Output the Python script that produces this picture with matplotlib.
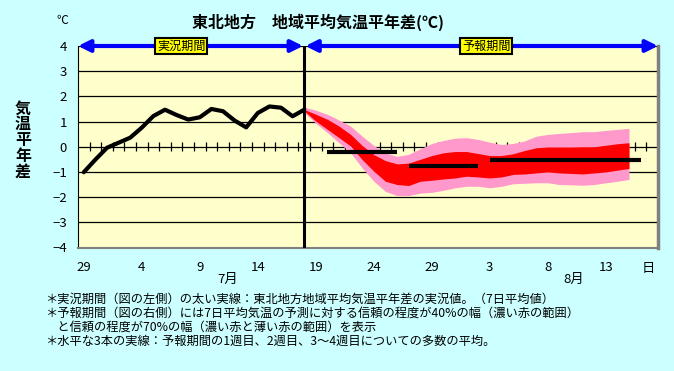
import numpy as np
import matplotlib.pyplot as plt

plt.rcParams['font.family'] = ['Noto Sans CJK JP', 'DejaVu Sans']

# days from 6/29 to 8/17 (one category per day)
days = [29, 30] + list(range(1, 32)) + list(range(1, 18))
month_labels = ['7月', '8月']
month_pos = [12.4, 42.2]

# observed 7-day mean anomaly (6/29 - 7/18)
observed = [-1.01, -0.51, -0.04, 0.16, 0.36, 0.76, 1.22, 1.47, 1.26, 1.08,
            1.17, 1.50, 1.41, 1.04, 0.77, 1.34, 1.60, 1.55, 1.21, 1.47]

# forecast ranges, starting at 7/18
fc_start = 19
pink_top = [1.58, 1.45, 1.29, 1.06, 0.82, 0.42, 0.05, -0.25, -0.38, -0.30,
            -0.08, 0.13, 0.25, 0.34, 0.36, 0.29, 0.18, 0.09, 0.13, 0.23,
            0.42, 0.49, 0.53, 0.56, 0.60, 0.60, 0.65, 0.69, 0.73]
red_top = [1.48, 1.29, 1.09, 0.82, 0.49, 0.05, -0.31, -0.55, -0.68, -0.65,
           -0.50, -0.35, -0.24, -0.19, -0.19, -0.27, -0.35, -0.35, -0.28, -0.15,
           -0.04, -0.01, -0.01, -0.01, 0.00, 0.00, 0.06, 0.12, 0.16]
red_bot = [1.42, 1.02, 0.69, 0.36, 0.03, -0.51, -0.97, -1.37, -1.50, -1.54,
           -1.37, -1.33, -1.28, -1.24, -1.17, -1.20, -1.24, -1.20, -1.10, -1.08,
           -1.04, -1.00, -1.04, -1.06, -1.08, -1.04, -1.00, -0.93, -0.86]
pink_bot = [1.36, 0.93, 0.56, 0.16, -0.24, -0.84, -1.37, -1.77, -1.94, -1.94,
            -1.84, -1.81, -1.73, -1.63, -1.57, -1.57, -1.63, -1.57, -1.47, -1.45,
            -1.43, -1.43, -1.50, -1.51, -1.53, -1.50, -1.43, -1.37, -1.30]

# ensemble means for week 1, week 2 and weeks 3-4
week_means = [-0.2, -0.78, -0.54]
week_spans = [(21, 27), (28, 34), (35, 48)]

notes = [
    '＊実況期間（図の左側）の太い実線：東北地方地域平均気温平年差の実況値。（7日平均値）',
    '＊予報期間（図の右側）には7日平均気温の予測に対する信頼の程度が40%の幅（濃い赤の範囲）',
    '　と信頼の程度が70%の幅（濃い赤と薄い赤の範囲）を表示',
    '＊水平な3本の実線：予報期間の1週目、2週目、3～4週目についての多数の平均。',
]

W, H = 674, 371
fig = plt.figure(figsize=(W / 100, H / 100), dpi=100, facecolor='#CCFFFF')
ax = fig.add_axes([78 / W, 1 - 247.5 / H, 580 / W, 201.5 / H])
ax.set_facecolor('#FFFFCC')

x = np.arange(len(days))
ax.set_xlim(-0.5, len(days) - 0.5)
ax.set_ylim(-4, 4)
ax.set_yticks(range(-4, 5))
ax.yaxis.grid(True, color='black', lw=0.9)
ax.set_axisbelow(True)
ax.tick_params(axis='y', length=0, pad=8, labelsize=9.5)
ax.set_xticks(x[::5])
ax.set_xticklabels([str(days[i]) for i in x[::5]])
ax.tick_params(axis='x', length=0, pad=10, labelsize=9.5)

# tick marks crossing the zero line, between categories
ax.vlines(x + 0.5, -0.18, 0.18, color='black', lw=0.9, zorder=0.8)

fx = np.arange(fc_start, fc_start + len(red_top))
ax.fill_between(fx, pink_bot, pink_top, color='#FF99CC', lw=0, zorder=1)
ax.fill_between(fx, red_bot, red_top, color='#FF0000', lw=0, zorder=1.5)

ax.plot(x[:len(observed)], observed, color='black', lw=3,
        solid_capstyle='round', solid_joinstyle='round', zorder=3)
for (a, b), m in zip(week_spans, week_means):
    ax.plot([a, b], [m, m], color='black', lw=3, solid_capstyle='butt', zorder=3)

ax.axvline(fc_start, color='black', lw=2.2, zorder=4)

ax.spines['top'].set_visible(False)
ax.spines['left'].set_color('black')
ax.spines['bottom'].set_color('#808080')
ax.spines['bottom'].set_linewidth(1.5)
ax.spines['right'].set_color('#808080')
ax.spines['right'].set_linewidth(2.5)

# period arrows
astyle = '<|-|>, head_length=0.7, head_width=0.35'
ax.annotate('', xy=(-0.5, 4), xytext=(fc_start - 0.1, 4), annotation_clip=False,
            arrowprops=dict(arrowstyle=astyle, color='#0000FF', lw=3,
                            shrinkA=0, shrinkB=0, mutation_scale=10), zorder=5)
ax.annotate('', xy=(fc_start + 0.1, 4), xytext=(len(days) - 0.5, 4), annotation_clip=False,
            arrowprops=dict(arrowstyle=astyle, color='#0000FF', lw=3,
                            shrinkA=0, shrinkB=0, mutation_scale=10), zorder=5)
for xp, lab in [(8.4, '実況期間'), (34.7, '予報期間')]:
    ax.text(xp, 4, lab, ha='center', va='center', fontsize=8.7, zorder=6, clip_on=False,
            bbox=dict(boxstyle='square,pad=0.15', fc='#FFFF00', ec='black', lw=1.5))

xt = ax.get_xaxis_transform()
for xp, lab in zip(month_pos, month_labels):
    ax.text(xp, -0.16, lab, transform=xt, ha='center', va='center', fontsize=9.5)
ax.text(48.7, -0.102, '日', transform=xt, ha='center', va='center', fontsize=9.5)

fig.text(318 / W, 1 - 22 / H, '東北地方　地域平均気温平年差(℃)', ha='center', va='center',
         fontsize=11.5, fontweight='bold')
fig.text(62 / W, 1 - 20 / H, '℃', ha='center', va='center', fontsize=8.5)
fig.text(23 / W, 1 - 140 / H, '\n'.join('気温平年差'), ha='center', va='center',
         fontsize=11.5, fontweight='bold', linespacing=0.98)

for i, t in enumerate(notes):
    fig.text(45 / W, 1 - (299 + 14 * i) / H, t, ha='left', va='center', fontsize=8.8)

fig.savefig('out.png', dpi=100, facecolor=fig.get_facecolor())
